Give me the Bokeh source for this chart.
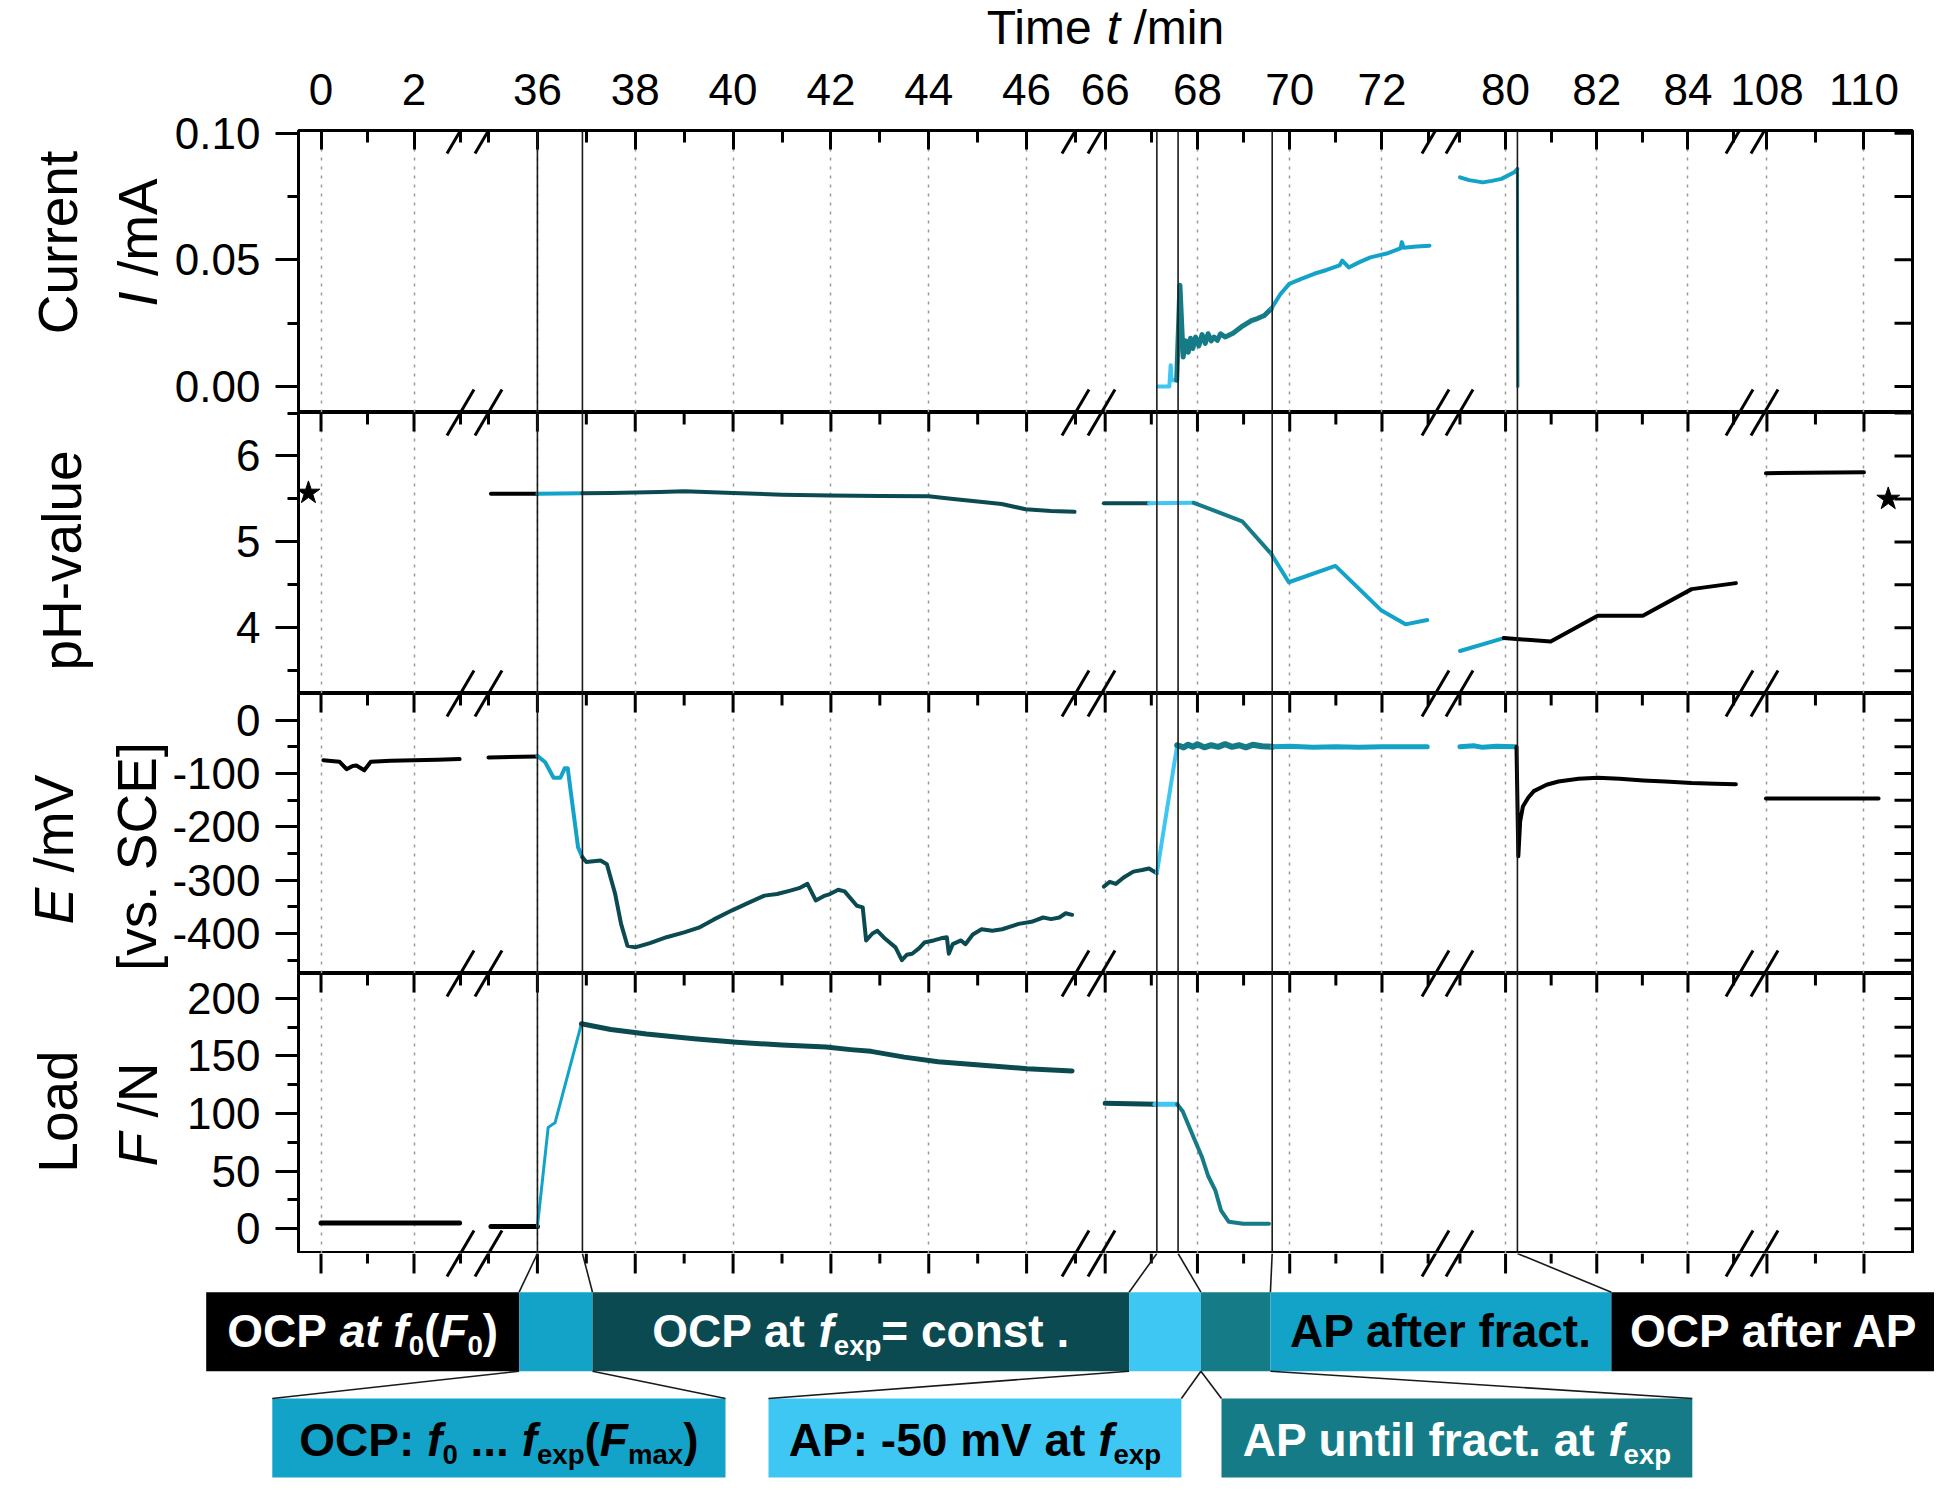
import math
from bokeh.plotting import figure
from bokeh.layouts import column, row
from bokeh.models import (Range1d, LinearAxis, FixedTicker, Grid, Span,
                          NumeralTickFormatter, BasicTickFormatter)
from bokeh.core.properties import value
from bokeh.embed import file_html
from bokeh.resources import INLINE

FONT = "Liberation Sans"

# ------------------------------------------------------------------ data
X_MAJOR = [0, 2, 36, 38, 40, 42, 44, 46, 66, 68, 70, 72, 80, 82, 84, 108, 110]
X_MINOR = [1, 3, 35, 37, 39, 41, 43, 45, 47, 67, 69, 71, 73, 79, 81, 83, 85, 109]

PHASE_T = [36.0, 36.92, 67.12, 67.58, 69.62, 80.26]

# Current I / mA
cur_ap_t = [67.15, 67.39, 67.42, 67.44, 67.55]
cur_ap_v = [0.0, 0.0, 0.0084, 0.0024, 0.0024]
cur_until_t = [67.55, 67.62, 67.69, 67.75, 67.80, 67.85, 67.90, 67.96, 68.03, 68.10, 68.17, 68.23,
               68.30, 68.36, 68.43, 68.50, 68.60, 68.77, 68.95, 69.17, 69.30, 69.45, 69.60]
cur_until_v = [0.0024, 0.040, 0.0116, 0.018, 0.0135, 0.019, 0.015, 0.0195, 0.016, 0.0205, 0.017, 0.0208,
               0.018, 0.0195, 0.0182, 0.0208, 0.0195, 0.021, 0.0235, 0.026, 0.0268, 0.028, 0.0307]
cur_after_t = [69.60, 69.80, 69.99, 70.25, 70.53, 70.80, 71.08, 71.14, 71.28, 71.50, 71.75, 72.10,
               72.40, 72.43, 72.47, 72.75, 73.03]
cur_after_v = [0.0307, 0.0365, 0.0405, 0.0425, 0.0445, 0.046, 0.0478, 0.0497, 0.047, 0.049, 0.051, 0.0525,
               0.0545, 0.057, 0.0548, 0.0553, 0.0556]
cur_after2_t = [79.0, 79.2, 79.5, 79.7, 79.91, 80.19, 80.26]
cur_after2_v = [0.0826, 0.0815, 0.0806, 0.0812, 0.0820, 0.0846, 0.0859]
cur_drop_t = [80.26, 80.27]
cur_drop_v = [0.0859, 0.0]

# pH
ph_star_t = [-0.27, 110.5]
ph_star_v = [5.57, 5.50]
ph_ocp0_t = [35.05, 36.0]
ph_ocp0_v = [5.56, 5.56]
ph_load_t = [36.0, 36.92]
ph_load_v = [5.56, 5.565]
ph_const_t = [36.92, 37.5, 38.5, 39.0, 40.0, 41.0, 42.0, 43.0, 44.0, 44.5, 45.0, 45.49, 45.98, 46.5, 46.98]
ph_const_v = [5.565, 5.57, 5.58, 5.59, 5.57, 5.55, 5.54, 5.535, 5.53, 5.50, 5.47, 5.44, 5.38, 5.36, 5.35]
ph_const2_t = [65.97, 66.95]
ph_const2_v = [5.45, 5.45]
ph_ap_t = [66.95, 67.92]
ph_ap_v = [5.45, 5.455]
ph_until_t = [67.92, 68.97, 69.60]
ph_until_v = [5.455, 5.24, 4.86]
ph_after_t = [69.60, 69.98, 70.99, 71.99, 72.51, 72.98]
ph_after_v = [4.86, 4.53, 4.72, 4.20, 4.04, 4.09]
ph_after2_t = [79.0, 79.96]
ph_after2_v = [3.73, 3.88]
ph_ocp2_t = [79.96, 80.99, 82.02, 83.01, 84.08, 85.05]
ph_ocp2_v = [3.88, 3.84, 4.14, 4.14, 4.45, 4.52]
ph_ocp3_t = [107.98, 110.0]
ph_ocp3_v = [5.80, 5.81]

# Potential E / mV
e_ocp0_t = [0.05, 0.40, 0.55, 0.68, 0.76, 0.93, 1.07, 1.5, 2.0, 2.5, 2.98]
e_ocp0_v = [-75, -78, -92, -86, -85, -94, -78, -76, -75, -74, -73]
e_ocp1_t = [35.0, 36.0]
e_ocp1_v = [-70, -68]
e_load_t = [36.0, 36.16, 36.33, 36.47, 36.56, 36.62, 36.67, 36.75, 36.83, 36.92]
e_load_v = [-67, -79, -108, -108, -90, -90, -126, -182, -238, -257]
e_const_t = [36.92, 37.0, 37.29, 37.42, 37.59, 37.71, 37.84, 38.0, 38.3, 38.64, 39.0, 39.3, 39.6, 39.97,
             40.3, 40.64, 40.9, 41.15, 41.35, 41.52, 41.69, 41.85, 41.98, 42.15, 42.28, 42.53, 42.65,
             42.72, 42.85, 42.95, 43.11, 43.32, 43.45, 43.55, 43.66, 43.80, 43.91, 44.1, 44.25, 44.37,
             44.41, 44.49, 44.66, 44.75, 44.9, 45.08, 45.3, 45.5, 45.7, 45.84, 46.1, 46.34, 46.5,
             46.67, 46.8, 46.93]
e_const_v = [-257, -266, -263, -270, -326, -382, -423, -426, -418, -407, -398, -389, -374, -357,
             -343, -329, -326, -320, -315, -307, -338, -330, -326, -318, -321, -348, -351,
             -413, -400, -395, -410, -426, -450, -440, -438, -428, -417, -413, -409, -407,
             -438, -420, -413, -420, -402, -392, -395, -392, -386, -382, -378, -370, -373,
             -370, -362, -365]
e_const2_t = [65.97, 66.10, 66.23, 66.40, 66.61, 66.80, 66.95, 67.12]
e_const2_v = [-312, -303, -307, -295, -284, -281, -278, -287]
e_ap_t = [67.12, 67.56]
e_ap_v = [-287, -47]
e_until_t = [67.56, 67.7, 67.8, 67.9, 68.0, 68.15, 68.3, 68.45, 68.6, 68.75, 68.9, 69.05, 69.2, 69.4, 69.62]
e_until_v = [-47, -51, -46, -50, -45, -51, -47, -50, -45, -50, -47, -51, -46, -49, -50]
e_after_t = [69.62, 70.0, 70.5, 71.0, 71.5, 72.0, 72.5, 72.98]
e_after_v = [-50, -49, -51, -50, -51, -50, -50, -50]
e_after2_t = [79.0, 79.3, 79.5, 79.8, 80.22]
e_after2_v = [-50, -48, -51, -49, -50]
e_ocp2_t = [80.24, 80.28, 80.32, 80.38, 80.5, 80.62, 80.9, 81.16, 81.6, 82.02, 82.5, 83.02, 83.5, 84.08, 84.6, 85.05]
e_ocp2_v = [-50, -255, -190, -162, -145, -133, -121, -115, -110, -108, -110, -113, -115, -118, -119, -120]
e_ocp3_t = [107.98, 110.3]
e_ocp3_v = [-147, -147]

# Load F / N
f_ocp0_t = [0.0, 2.98]
f_ocp0_v = [5, 5]
f_ocp1_t = [35.05, 36.0]
f_ocp1_v = [2, 2]
f_load_t = [36.0, 36.22, 36.36, 36.9]
f_load_v = [2, 88, 92, 178]
f_const_t = [36.9, 37.5, 38.23, 39.2, 40.07, 41.0, 41.9, 42.4, 42.82, 43.5, 44.19, 45.1, 46.01, 46.93]
f_const_v = [178, 173, 169, 165, 162, 159.5, 157.7, 155.5, 154, 149, 145, 142, 139, 137]
f_const2_t = [66.0, 67.08]
f_const2_v = [109, 108]
f_ap_t = [67.08, 67.56]
f_ap_v = [108, 108]
f_until_t = [67.56, 67.68, 67.92, 68.1, 68.23, 68.39, 68.51, 68.68, 68.99, 69.55]
f_until_v = [108, 102, 79, 62, 46, 33, 16, 6, 4.3, 4.3]

# Y axes
CUR_TICKS, CUR_MINOR = [0.0, 0.05, 0.10], [0.025, 0.075]
PH_TICKS, PH_MINOR = [4, 5, 6], [3.5, 4.5, 5.5, 6.5]
E_TICKS, E_MINOR = [0, -100, -200, -300, -400], [-50, -150, -250, -350, -450]
F_TICKS, F_MINOR = [0, 50, 100, 150, 200], [25, 75, 125, 175]

# Phase legend texts (runs: text, italic, subscript)
ROW1_TEXT = [
    [("OCP ", 0, 0), ("at", 1, 0), (" ", 0, 0), ("f", 1, 0), ("0", 0, 1), ("(", 0, 0), ("F", 1, 0), ("0", 0, 1), (")", 0, 0)],
    None,
    [("OCP at ", 0, 0), ("f", 1, 0), ("exp", 0, 1), ("= const .", 0, 0)],
    None,
    None,
    [("AP after fract.", 0, 0)],
    [("OCP after AP", 0, 0)],
]
ROW2_TEXT = [
    [("OCP: ", 0, 0), ("f", 1, 0), ("0", 0, 1), (" ... ", 0, 0), ("f", 1, 0), ("exp", 0, 1), ("(", 0, 0), ("F", 1, 0), ("max", 0, 1), (")", 0, 0)],
    [("AP: -50 mV at ", 0, 0), ("f", 1, 0), ("exp", 0, 1)],
    [("AP until fract. at ", 0, 0), ("f", 1, 0), ("exp", 0, 1)],
]

# ------------------------------------------------------------------ style / layout
BLACK, DARK, MID, LIGHT, TEAL = "#000000", "#0c4a51", "#14a3c8", "#3fc7f3", "#157b86"

SEGS = [(-0.484, 3.0, 298, 460), (35.0, 47.0, 488, 1075), (65.92, 73.16, 1101, 1435),
        (78.99, 85.13, 1459, 1739), (107.95, 111.0, 1764, 1912)]
FX0, FX1 = 298, 1912
W_L = 168
PAGE_W = 1934
FW = FX1 - FX0
TITLE_H = 54

ROW1_EDGES = [205.7, 518.6, 592, 1128.6, 1200.4, 1269.9, 1610.9, 1937]
ROW1_COL = [BLACK, MID, DARK, LIGHT, TEAL, MID, BLACK]
ROW1_TXTCOL = ["white", None, "white", None, None, "black", "white"]
ROW1_Y = (1291.7, 1370.7)
ROW2_BOX = [(271.8, 725, MID, "black"), (768, 1180.9, LIGHT, "black"), (1221, 1691.8, TEAL, "white")]
ROW2_Y = (1398, 1477)
CONN_UP = [518.6, 592, 1128.6, 1200.4, 1269.9, 1610.9]
CONN_LOW = [(518.6, 271.8), (592, 725), (1128.6, 768), (1200.4, 1180.9), (1200.4, 1221), (1269.9, 1691.8)]

REG = {' ': 278, '(': 333, ')': 333, '-': 333, '.': 278, '/': 278, ':': 278, '=': 584, '[': 278, ']': 278,
       'A': 667, 'C': 722, 'E': 667, 'F': 611, 'H': 722, 'I': 278, 'L': 556, 'N': 722, 'O': 778,
       'P': 667, 'S': 667, 'T': 611, 'V': 667, 'a': 556, 'c': 500, 'd': 556, 'e': 556, 'f': 278,
       'i': 222, 'l': 222, 'm': 833, 'n': 556, 'o': 556, 'p': 556, 'r': 333, 's': 500, 't': 278,
       'u': 556, 'v': 500, 'x': 500}
BOLD = {' ': 278, '(': 333, ')': 333, '-': 333, '.': 278, '/': 278, ':': 333, '=': 584,
        'A': 722, 'C': 722, 'E': 667, 'F': 611, 'O': 778, 'P': 667, 'V': 667,
        'a': 556, 'c': 556, 'e': 556, 'f': 333, 'i': 278, 'l': 278, 'm': 889, 'n': 611,
        'o': 611, 'p': 611, 'r': 389, 's': 556, 't': 333, 'u': 611, 'x': 556}
SUBF, SUBDY, MIDK = 0.6, 0.19, 0.34


def tw(s, bold):
    tab = BOLD if bold else REG
    return sum(tab.get(c, 556) for c in s) / 1000.0


def disp(t):
    for t0, t1, x0, x1 in SEGS:
        if t0 - 1e-9 <= t <= t1 + 1e-9:
            return round(x0 - FX0 + (t - t0) * (x1 - x0) / (t1 - t0), 4)
    raise ValueError(t)


XMAJ_D = [disp(t) for t in X_MAJOR]
XMIN_D = [disp(t) for t in X_MINOR]
X_LABELS = {d: str(t) for d, t in zip(XMAJ_D, X_MAJOR)}
SLASH_XD = []
for i in range(4):
    SLASH_XD += [SEGS[i][3] - FX0, SEGS[i + 1][2] - FX0]


def style_of(bold, italic):
    if bold and italic:
        return "bold italic"
    if bold:
        return "bold"
    if italic:
        return "italic"
    return "normal"


def runs_h(p, runs, cx, ybase, size, color, bold, down=1):
    """Horizontal mixed-style text; ybase = baseline, 'down' = +1 if y grows downward."""
    widths = [tw(t, bold) * size * (SUBF if sub else 1) for t, it, sub in runs]
    pos = cx - sum(widths) / 2
    for (t, it, sub), w in zip(runs, widths):
        fs = size * (SUBF if sub else 1)
        lead = len(t) - len(t.lstrip(" "))
        s = t.strip(" ")
        if s:
            base = ybase + (down * SUBDY * size if sub else 0)
            ymid = base - down * MIDK * fs
            p.text(x=[pos + tw(" " * lead, bold) * fs], y=[ymid], text=[s], text_font=value(FONT),
                   text_font_size=value(f"{fs:.1f}px"), text_font_style=value(style_of(bold, it)),
                   text_color=color, text_align=value("left"), text_baseline=value("middle"))
        pos += w


def runs_v(p, runs, xc, ycenter_up, size, color):
    widths = [tw(t, False) * size for t, it, sub in runs]
    pos = ycenter_up - sum(widths) / 2
    for (t, it, sub), w in zip(runs, widths):
        lead = len(t) - len(t.lstrip(" "))
        s = t.strip(" ")
        p.text(x=[xc], y=[pos + tw(" " * lead, False) * size], text=[s], angle=math.pi / 2,
               text_font=value(FONT), text_font_size=value(f"{size}px"),
               text_font_style=value(style_of(False, it)), text_color=color,
               text_align=value("left"), text_baseline=value("middle"))
        pos += w


def blank_fig(w, h, xr, yr):
    p = figure(width=w, height=h, x_range=xr, y_range=yr, x_axis_type=None, y_axis_type=None,
               toolbar_location=None, output_backend="svg", min_border=0)
    p.outline_line_color = None
    p.background_fill_color = "white"
    p.border_fill_color = "white"
    p.grid.visible = False
    return p


def make_panel(yr, height, mb_top, frame_h, yt, ym, fmt, top_labels, overrides=None):
    p = figure(width=PAGE_W - W_L, height=height, x_range=Range1d(0, FW),
               y_range=Range1d(*yr), x_axis_type=None, y_axis_type=None,
               toolbar_location=None, output_backend="svg",
               min_border_left=FX0 - W_L, min_border_right=PAGE_W - FX1,
               min_border_top=mb_top, min_border_bottom=0)
    p.outline_line_color = "black"
    p.outline_line_width = 3
    p.background_fill_color = "white"
    p.border_fill_color = "white"
    ypp = (yr[1] - yr[0]) / frame_h  # data units per pixel

    xt = FixedTicker(ticks=XMAJ_D, minor_ticks=XMIN_D)
    if top_labels:
        top = LinearAxis(ticker=xt)
        top.axis_line_color = None
        top.major_tick_in, top.major_tick_out = 19, 0
        top.minor_tick_in, top.minor_tick_out = 12, 0
        top.major_tick_line_width = 3
        top.minor_tick_line_width = 3
        top.major_label_overrides = X_LABELS
        top.major_label_text_font = FONT
        top.major_label_text_font_size = "44px"
        top.major_label_text_color = "black"
        top.major_label_standoff = 26
        p.add_layout(top, "above")
    else:
        # inward tick marks along the top edge of the panel
        p.segment(x0=XMAJ_D, y0=[yr[1]] * len(XMAJ_D), x1=XMAJ_D, y1=[yr[1] - 19 * ypp] * len(XMAJ_D),
                  line_color="black", line_width=3)
        p.segment(x0=XMIN_D, y0=[yr[1]] * len(XMIN_D), x1=XMIN_D, y1=[yr[1] - 12 * ypp] * len(XMIN_D),
                  line_color="black", line_width=3)
    p.add_layout(Grid(dimension=0, ticker=xt, grid_line_color="#9a9a9a",
                      grid_line_dash="3 6", grid_line_width=1.5))

    ytk = FixedTicker(ticks=yt, minor_ticks=ym)
    left = LinearAxis(ticker=ytk, formatter=fmt)
    if overrides:
        left.major_label_overrides = overrides
    left.axis_line_color = None
    left.major_tick_out, left.major_tick_in = 23, 0
    left.minor_tick_out, left.minor_tick_in = 11, 0
    left.major_tick_line_width = 3
    left.minor_tick_line_width = 3
    left.major_label_text_font = FONT
    left.major_label_text_font_size = "44px"
    left.major_label_text_color = "black"
    left.major_label_standoff = 15
    p.add_layout(left, "left")

    # inward tick marks along the right edge
    yy = [v for v in yt + ym if yr[0] <= v <= yr[1]]
    p.segment(x0=[FW - 18] * len(yy), y0=yy, x1=[FW] * len(yy), y1=yy, line_color="black", line_width=3)

    for t in PHASE_T:
        p.add_layout(Span(location=disp(t), dimension="height", line_color="#1a1a1a", line_width=1.6))

    dy = 23.0 * ypp
    xs0, ys0, xs1, ys1 = [], [], [], []
    for yb in yr:
        for xc in SLASH_XD:
            xs0.append(xc - 13.5); ys0.append(yb - dy)
            xs1.append(xc + 13.5); ys1.append(yb + dy)
    p.segment(x0=xs0, y0=ys0, x1=xs1, y1=ys1, line_color="black", line_width=3)
    return p


def tline(p, ts, vs, color, w=4):
    p.line([disp(t) for t in ts], vs, line_color=color, line_width=w,
           line_join="round", line_cap="round")


# ------------------------------------------------------------------ panels
CUR_R = (-0.0103, 0.1011)
PH_R = (3.235, 6.506)
E_R = (-475, 50)
F_R = (-21.5, 221.6)
E_LABELS = {v: str(v) for v in E_TICKS}

p1 = make_panel(CUR_R, 412 - TITLE_H, 130 - TITLE_H, 282, CUR_TICKS, CUR_MINOR,
                NumeralTickFormatter(format="0.00"), True)
p2 = make_panel(PH_R, 281, 0, 281, PH_TICKS, PH_MINOR, BasicTickFormatter(), False)
p3 = make_panel(E_R, 280, 0, 280, E_TICKS, E_MINOR, BasicTickFormatter(), False, E_LABELS)
p4 = make_panel(F_R, 280, 0, 280, F_TICKS, F_MINOR, BasicTickFormatter(), False)

tline(p1, cur_ap_t, cur_ap_v, LIGHT)
tline(p1, cur_until_t, cur_until_v, TEAL, 5)
tline(p1, cur_after_t, cur_after_v, MID)
tline(p1, cur_after2_t, cur_after2_v, MID)
tline(p1, cur_drop_t, cur_drop_v, TEAL, 3)

tline(p2, ph_ocp0_t, ph_ocp0_v, BLACK)
tline(p2, ph_load_t, ph_load_v, MID)
tline(p2, ph_const_t, ph_const_v, DARK)
tline(p2, ph_const2_t, ph_const2_v, DARK)
tline(p2, ph_ap_t, ph_ap_v, LIGHT)
tline(p2, ph_until_t, ph_until_v, TEAL)
tline(p2, ph_after_t, ph_after_v, MID)
tline(p2, ph_after2_t, ph_after2_v, MID)
tline(p2, ph_ocp2_t, ph_ocp2_v, BLACK)
tline(p2, ph_ocp3_t, ph_ocp3_v, BLACK)
p2.scatter([disp(t) for t in ph_star_t], ph_star_v, marker="star", size=24,
           fill_color="black", line_color="black")

tline(p3, e_ocp0_t, e_ocp0_v, BLACK)
tline(p3, e_ocp1_t, e_ocp1_v, BLACK)
tline(p3, e_load_t, e_load_v, MID)
tline(p3, e_const_t, e_const_v, DARK)
tline(p3, e_const2_t, e_const2_v, DARK)
tline(p3, e_ap_t, e_ap_v, LIGHT)
tline(p3, e_until_t, e_until_v, TEAL, 6)
tline(p3, e_after_t, e_after_v, MID, 5)
tline(p3, e_after2_t, e_after2_v, MID, 5)
tline(p3, e_ocp2_t, e_ocp2_v, BLACK)
tline(p3, e_ocp3_t, e_ocp3_v, BLACK)

tline(p4, f_ocp0_t, f_ocp0_v, BLACK, 5)
tline(p4, f_ocp1_t, f_ocp1_v, BLACK, 5)
tline(p4, f_load_t, f_load_v, MID, 3)
tline(p4, f_const_t, f_const_v, DARK, 5)
tline(p4, f_const2_t, f_const2_v, DARK, 5)
tline(p4, f_ap_t, f_ap_v, LIGHT, 5)
tline(p4, f_until_t, f_until_v, TEAL, 4)

# ------------------------------------------------------------------ title
ptitle = blank_fig(PAGE_W, TITLE_H, Range1d(0, PAGE_W), Range1d(-TITLE_H, 0))
runs_h(ptitle, [("Time ", 0, 0), ("t", 1, 0), (" /min", 0, 0)], (FX0 + FX1) / 2, -43.8, 48, "black", False, down=-1)

# ------------------------------------------------------------------ y-axis titles
plab = blank_fig(W_L, 1253 - TITLE_H, Range1d(0, W_L), Range1d(-1253, -TITLE_H))
runs_v(plab, [("Current", 0, 0)], 57, -242, 55, "black")
runs_v(plab, [("I", 1, 0), (" /mA", 0, 0)], 137, -242, 55, "black")
runs_v(plab, [("pH-value", 0, 0)], 61, -560, 55, "black")
runs_v(plab, [("E", 1, 0), (" /mV", 0, 0)], 53, -849, 55, "black")
runs_v(plab, [("[vs. SCE]", 0, 0)], 136, -856, 55, "black")
runs_v(plab, [("Load", 0, 0)], 57, -1111, 55, "black")
runs_v(plab, [("F", 1, 0), (" /N", 0, 0)], 137, -1114, 55, "black")

# ------------------------------------------------------------------ phase legend
pb = blank_fig(PAGE_W, 1482 - 1253, Range1d(-FX0, PAGE_W - FX0), Range1d(1482, 1253))
# outward tick marks below the Load panel
pb.segment(x0=XMAJ_D, y0=[1253] * len(XMAJ_D), x1=XMAJ_D, y1=[1273] * len(XMAJ_D),
           line_color="black", line_width=3)
pb.segment(x0=XMIN_D, y0=[1253] * len(XMIN_D), x1=XMIN_D, y1=[1263] * len(XMIN_D),
           line_color="black", line_width=3)
pb.segment(x0=[x - 13.5 for x in SLASH_XD], y0=[1253 + 23] * len(SLASH_XD),
           x1=[x + 13.5 for x in SLASH_XD], y1=[1253 - 23] * len(SLASH_XD),
           line_color="black", line_width=3)

pb.quad(left=[e - FX0 for e in ROW1_EDGES[:-1]], right=[e - FX0 for e in ROW1_EDGES[1:]],
        top=ROW1_Y[0], bottom=ROW1_Y[1], fill_color=ROW1_COL, line_color=None)
pb.quad(left=[b[0] - FX0 for b in ROW2_BOX], right=[b[1] - FX0 for b in ROW2_BOX],
        top=ROW2_Y[0], bottom=ROW2_Y[1], fill_color=[b[2] for b in ROW2_BOX], line_color=None)
pb.segment(x0=[disp(t) for t in PHASE_T], y0=[1253] * len(PHASE_T),
           x1=[x - FX0 for x in CONN_UP], y1=[ROW1_Y[0]] * len(CONN_UP),
           line_color="#1a1a1a", line_width=1.6)
pb.segment(x0=[a - FX0 for a, b in CONN_LOW], y0=[ROW1_Y[1]] * len(CONN_LOW),
           x1=[b - FX0 for a, b in CONN_LOW], y1=[ROW2_Y[0]] * len(CONN_LOW),
           line_color="#1a1a1a", line_width=1.6)

for i, runs in enumerate(ROW1_TEXT):
    if runs:
        cx = (ROW1_EDGES[i] + ROW1_EDGES[i + 1]) / 2 - FX0
        runs_h(pb, runs, cx, 1346, 46, ROW1_TXTCOL[i], True)
for (l, r, c, tc), runs in zip(ROW2_BOX, ROW2_TEXT):
    runs_h(pb, runs, (l + r) / 2 - FX0, 1455, 46, tc, True)

layout = column(ptitle, row(plab, column(p1, p2, p3, p4)), pb)

with open("out.html", "w") as f:
    f.write(file_html(layout, INLINE))
